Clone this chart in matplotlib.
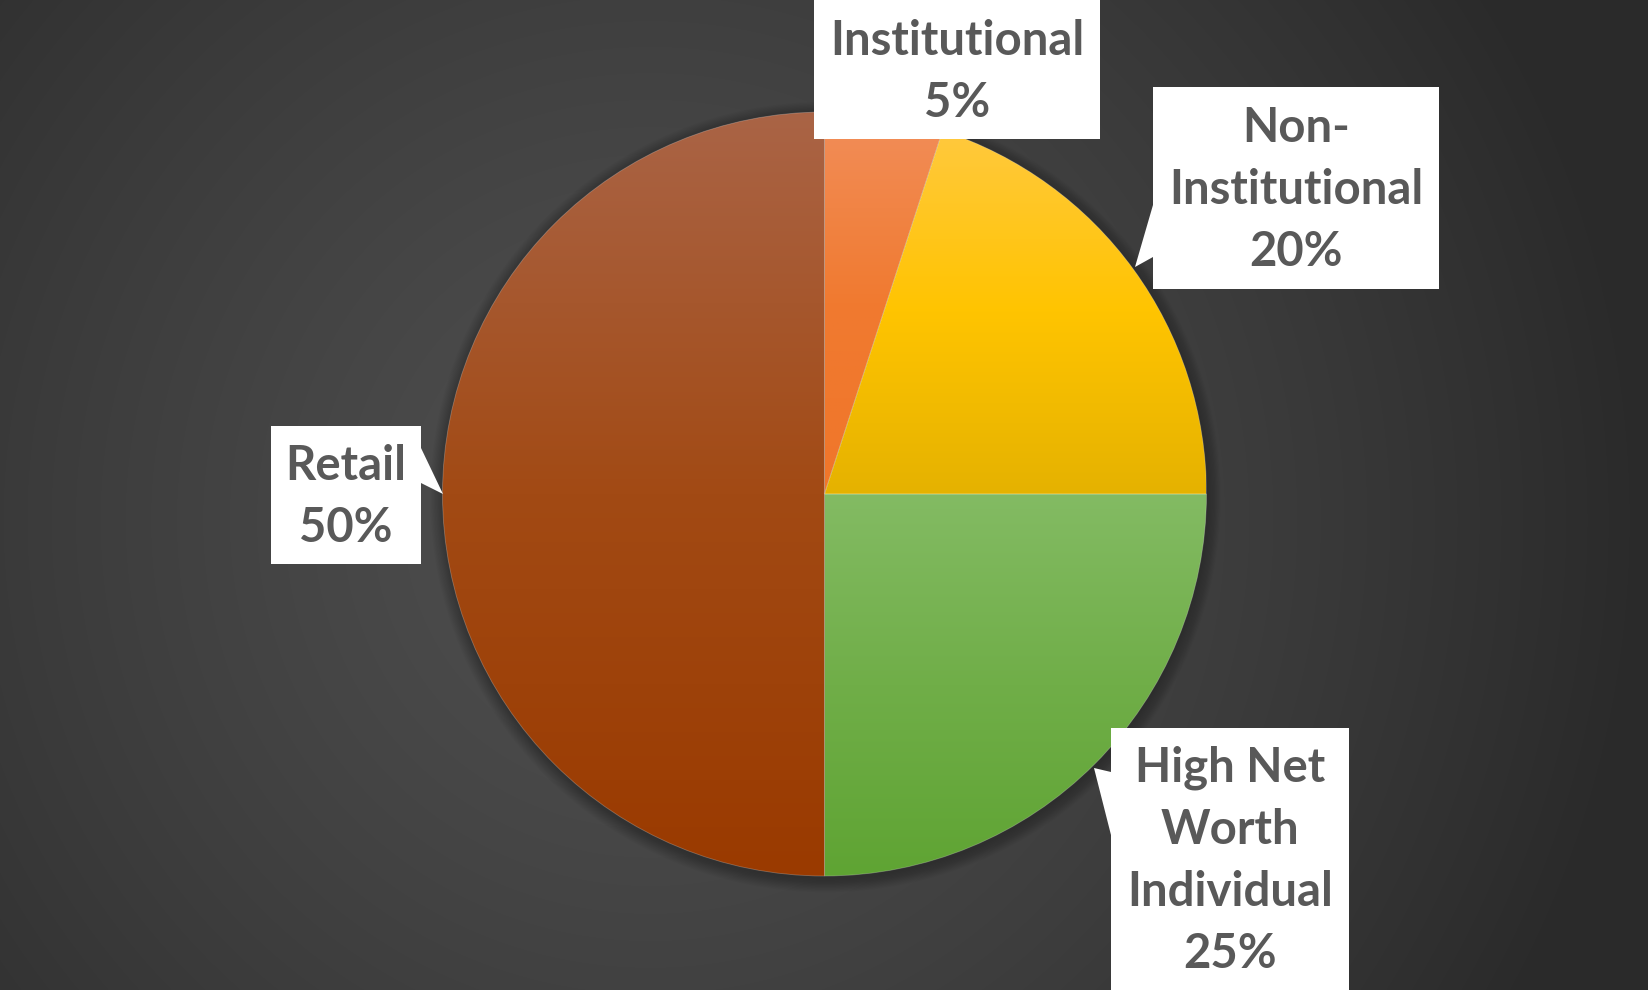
import numpy as np
import matplotlib.pyplot as plt
from matplotlib.colors import LinearSegmentedColormap
from matplotlib.patches import Polygon, Circle

# investor category split
categories = ["Institutional", "Non-\nInstitutional", "High Net\nWorth\nIndividual", "Retail"]
shares = [5, 20, 25, 50]
slice_colors = [["#f28e5a", "#f07a30", "#f0762a"],
                ["#ffc93e", "#ffc400", "#e5b200"],
                ["#83bb63", "#70ae48", "#5fa433"],
                ["#aa6446", "#a24a14", "#9a3a00"]]

W, H = 1649, 990
fig = plt.figure(figsize=(W / 100, H / 100), dpi=100)
ax = fig.add_axes([0, 0, 1, 1])

# dark radial background
yy, xx = np.mgrid[0:H, 0:W]
d = np.sqrt((xx - 650) ** 2 + (yy - 520) ** 2) / 1000.0
bg = 0x4f - (0x4f - 0x2a) * np.clip(d, 0, 1) ** 1.3
bg = bg / 255.0
ax.imshow(np.dstack([bg, bg, bg]), extent=[0, W, 0, H], origin="upper", zorder=0)

cx, cy, R = 824.5, H - 494, 382

# soft shadow under the pie
for k in range(12):
    ax.add_patch(Circle((cx + 1, cy - 3), R + k * 1.2, color="black", alpha=0.02, lw=0, zorder=1))

wedges, _ = ax.pie(shares, startangle=90, counterclock=False, center=(cx, cy), radius=R,
                   wedgeprops=dict(linewidth=0.6, edgecolor=(1, 1, 1, 0.25)))
for w, cols in zip(wedges, slice_colors):
    ext = w.get_path().get_extents()
    cmap = LinearSegmentedColormap.from_list("g", cols)
    grad = np.linspace(0, 1, 256).reshape(-1, 1)
    im = ax.imshow(grad, cmap=cmap, extent=[ext.x0, ext.x1, ext.y0, ext.y1],
                   origin="upper", aspect="auto", zorder=2)
    im.set_clip_path(w)
    w.set_facecolor("none")
    w.set_zorder(3)

ax.set_xlim(0, W)
ax.set_ylim(0, H)
ax.set_aspect("auto")
ax.axis("off")


def callout(box, pointer=None, side=None):
    x0, y0, x1, y1 = box
    pts = [(x0, y0), (x1, y0)]
    if side == "right":
        b0, b1, tip = pointer
        pts += [(x1, b0), tip, (x1, b1)]
    pts += [(x1, y1), (x0, y1)]
    if side == "left":
        b0, b1, tip = pointer
        pts += [(x0, b1), tip, (x0, b0)]
    pts = [(x, H - y) for x, y in pts]
    ax.add_patch(Polygon(pts, closed=True, facecolor="white", edgecolor="none", zorder=5))


boxes = [(814, -5, 1100, 139), (1153, 87, 1439, 289), (1111, 728, 1349, 1000), (271, 426, 421, 564)]
pointers = [None, (205, 257, (1135, 267)), (772, 835, (1094, 768)), (448, 483, (443, 494))]
sides = [None, "left", "left", "right"]
text_y = [72, 190, 861, 497]

for cat, s, box, p, sd, ty in zip(categories, shares, boxes, pointers, sides, text_y):
    callout(box, p, sd)
    ax.text((box[0] + box[2]) / 2, H - ty, f"{cat}\n{s}%", ha="center", va="center",
            fontsize=34, fontweight="bold", family="Lato", color="#595959",
            linespacing=1.5, zorder=6)

fig.savefig("out.png", dpi=100)
